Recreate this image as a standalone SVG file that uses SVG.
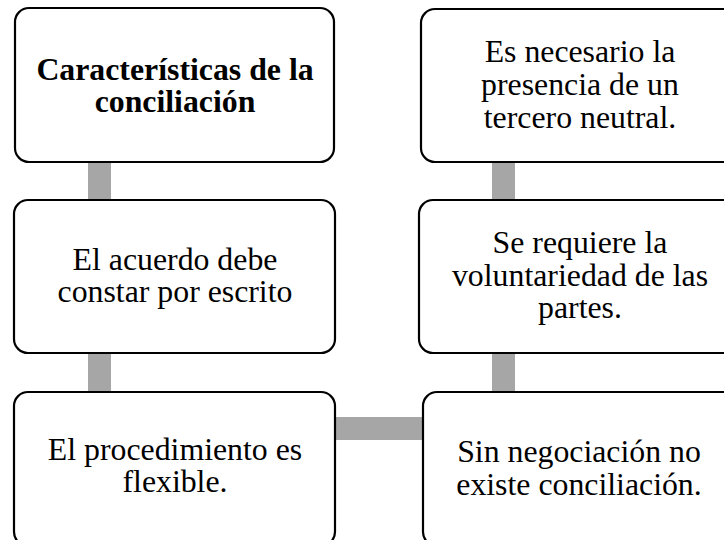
<svg xmlns="http://www.w3.org/2000/svg" width="724" height="540" viewBox="0 0 724 540">
<style>
.box{fill:#fff;stroke:#000;stroke-width:2.2}
.conn{fill:#A6A6A6}
text{font-family:"Liberation Serif","Times New Roman",serif;font-size:31.8px;fill:#000;text-anchor:middle}
.b{font-weight:bold;font-size:31.8px}
</style>
<rect width="724" height="540" fill="#fff"/>
<g id="connectors">
<rect class="conn" x="88" y="160" width="23" height="42"/>
<rect class="conn" x="88" y="351" width="23" height="43"/>
<rect class="conn" x="492" y="160" width="23" height="42"/>
<rect class="conn" x="492" y="351" width="23" height="43"/>
<rect class="conn" x="333" y="417" width="92" height="23"/>
</g>
<g id="n1">
<rect class="box" x="15" y="8" width="319" height="154" rx="14"/>
<text class="b" x="175" y="80">Características de la</text>
<text class="b" x="175" y="112">conciliación</text>
</g>
<g id="n2">
<rect class="box" x="14" y="200" width="321" height="153" rx="14"/>
<text x="175" y="270">El acuerdo debe</text>
<text x="175" y="302">constar por escrito</text>
</g>
<g id="n3">
<rect class="box" x="14" y="392" width="321" height="154" rx="14"/>
<text x="175" y="460">El procedimiento es</text>
<text x="175" y="492">flexible.</text>
</g>
<g id="n4">
<rect class="box" x="421" y="9" width="330" height="153" rx="14"/>
<text x="580" y="62">Es necesario la</text>
<text x="580" y="95">presencia de un</text>
<text x="580" y="128">tercero neutral.</text>
</g>
<g id="n5">
<rect class="box" x="419" y="200" width="330" height="153" rx="14"/>
<text x="580" y="253">Se requiere la</text>
<text x="580" y="286">voluntariedad de las</text>
<text x="580" y="318">partes.</text>
</g>
<g id="n6">
<rect class="box" x="423" y="392" width="330" height="154" rx="14"/>
<text x="579" y="462">Sin negociación no</text>
<text x="579" y="495">existe conciliación.</text>
</g>
</svg>
